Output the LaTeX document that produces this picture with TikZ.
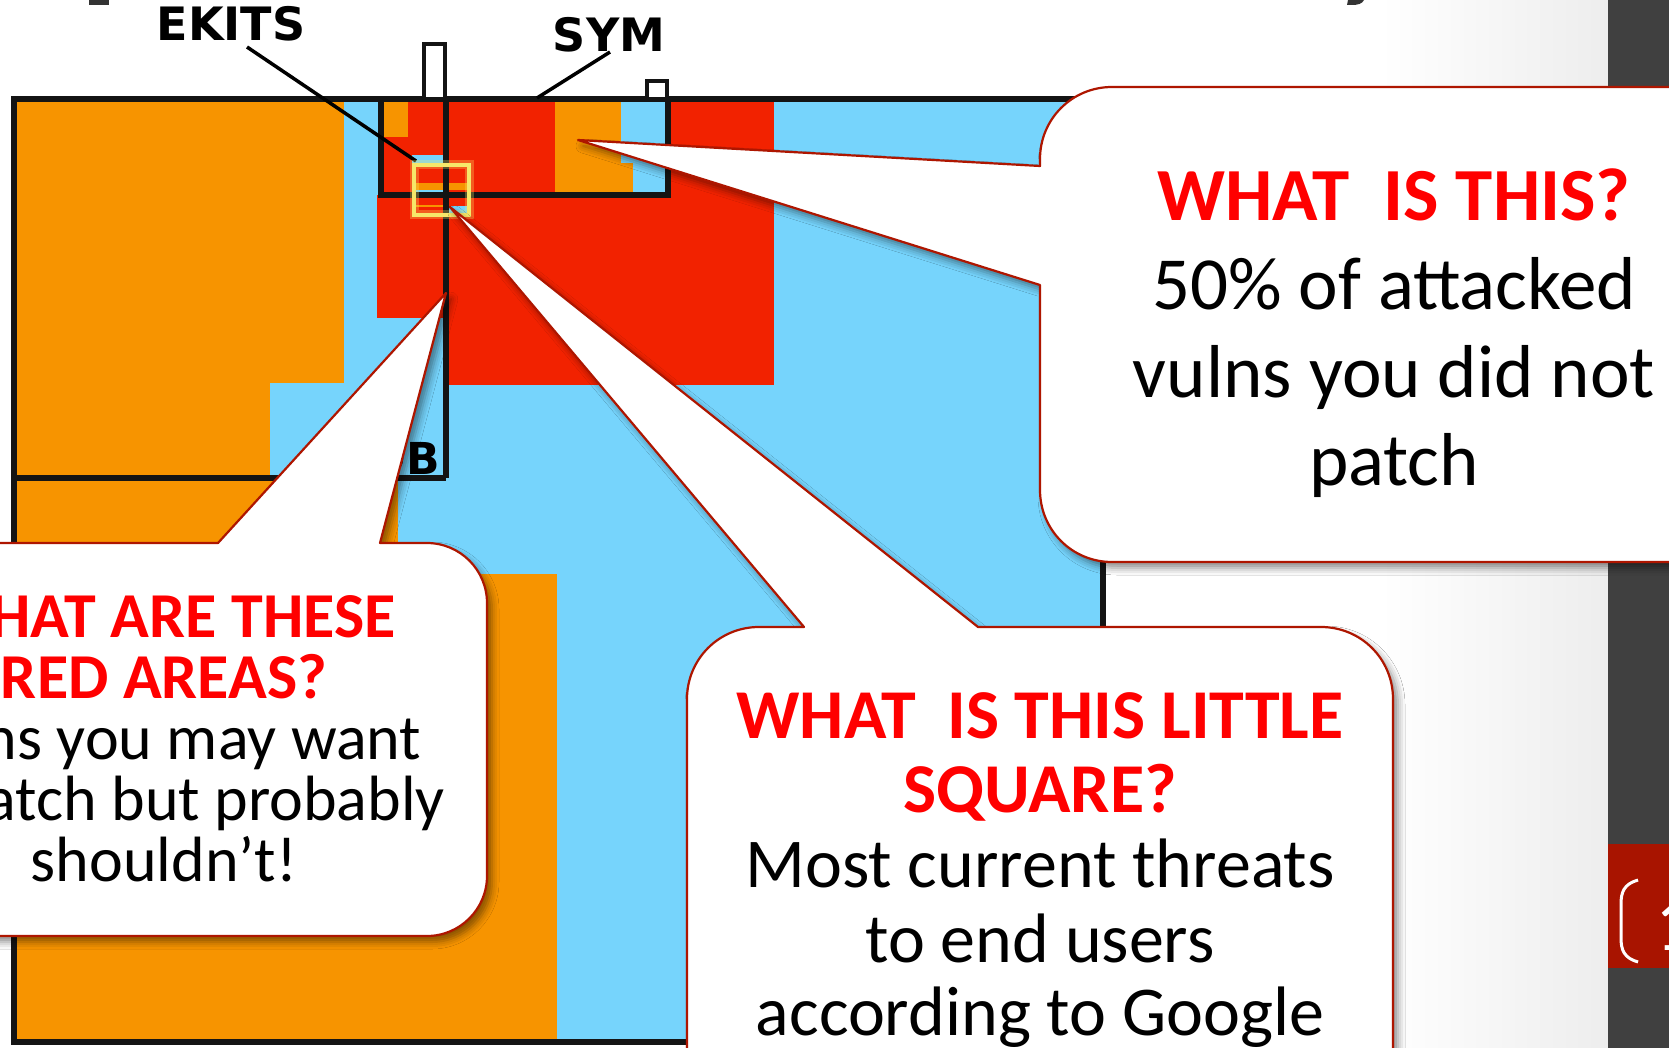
\documentclass[tikz,border=0pt]{standalone}
\usepackage{fontspec}
\setmainfont{Carlito}
\newfontfamily\chartfont{DejaVu Sans}
\usetikzlibrary{shadows.blur}

\definecolor{chartorange}{HTML}{F79400}
\definecolor{chartblue}{HTML}{76D4FC}
\definecolor{chartred}{HTML}{F22200}
\definecolor{qred}{HTML}{FF0000}
\definecolor{rimred}{HTML}{AE1600}
\definecolor{sidegray}{HTML}{404040}
\definecolor{numred}{HTML}{A81400}
\definecolor{marker}{HTML}{F6E86A}

\tikzset{
  frameline/.style={draw=black!92, line width=6pt, line join=miter},
  tabline/.style={draw=black!92, line width=4pt, line join=miter},
  pointer/.style={draw=black, line width=3.5pt},
  callout/.style={fill=white, draw=rimred, line width=2.2pt, line join=round,
    blur shadow={shadow xshift=5pt, shadow yshift=-6pt, shadow blur radius=7pt, shadow opacity=45}},
  chartlabel/.style={anchor=base, inner sep=0pt, font=\chartfont\bfseries\fontsize{#1}{#1}\selectfont},
  head/.style={anchor=base, inner sep=0pt, text=qred, font=\bfseries\fontsize{#1}{#1}\selectfont},
  body/.style={anchor=base, inner sep=0pt, text=black, font=\fontsize{#1}{#1}\selectfont}
}

\begin{document}
\begin{tikzpicture}[x=1pt, y=-1pt]
\useasboundingbox (0,0) rectangle (1669,1048);
\clip (0,0) rectangle (1669,1048);

% slide background, side band and page number tab
\fill[white] (0,0) rectangle (1669,1048);
\shade[left color=white, right color=black!7] (1380,0) rectangle (1608,1048);
\fill[sidegray] (1608,0) rectangle (1669,1048);
\fill[numred] (1608,844) rectangle (1669,968);
\draw[white, line width=3pt] (1638,880) .. controls (1624,884) and (1621,892) .. (1621,904)
  -- (1621,938) .. controls (1621,950) and (1624,958) .. (1638,962);
\node[body=78, text=white, anchor=base west] (pagenum) at (1655,950) {1};

% descenders of the slide title
\fill[black!80] (89,0) rectangle (109,5);
\fill[black!80] (1348,0) -- (1364,0) .. controls (1362,4) and (1358,5) .. (1351,5) -- (1347,5) -- cycle;

% treemap blocks
\fill[chartblue] (14,99) rectangle (1103,1042);
\fill[chartorange] (14,99) rectangle (344,383);
\fill[chartorange] (14,383) rectangle (270,478);
\fill[chartorange] (14,478) rectangle (398,574);
\fill[chartorange] (14,574) rectangle (557,1042);
\fill[chartred] (446,195) rectangle (774,385);
\fill[chartred] (377,195) rectangle (446,318);
\fill[chartred] (668,99) rectangle (774,195);
\fill[chartred] (381,99) rectangle (555,195);
\fill[chartorange] (381,99) rectangle (408,137);
\fill[chartorange] (555,99) rectangle (621,195);
\fill[chartorange] (621,163) rectangle (633,195);
\fill[chartblue] (621,99) rectangle (668,163);
\fill[chartblue] (633,163) rectangle (668,195);

% tiny cells inside the marked square
\fill[chartblue] (412,155) rectangle (443,165);
\fill[chartorange] (414,183) rectangle (468,190);
\fill[chartblue] (414,190) rectangle (443,193);
\fill[chartorange] (414,205) rectangle (443,207);
\fill[chartblue] (449,206) rectangle (467,215);

% outlines of the groups
\draw[frameline] (14,99) rectangle (1103,1042);
\draw[frameline] (381,99) rectangle (668,195);
\draw[frameline] (446,99) -- (446,478);
\draw[frameline] (14,478) -- (446,478);
\draw[tabline, fill=white] (424,44) rectangle (445,99);
\draw[tabline, fill=white] (647,81) rectangle (667,99);

% group labels
\node[chartlabel=46] (ekits) at (231,41) {EKITS};
\node[chartlabel=46] (sym) at (609,52) {SYM};
\node[chartlabel=44, anchor=base east] (db) at (440,474) {DB};
\coordinate (ekitsfoot) at (247,47);
\coordinate (ekitsend) at (416,161);
\coordinate (symfoot) at (610,52);
\coordinate (symend) at (537,98);
\draw[pointer] (ekitsfoot) -- (ekitsend);
\draw[pointer] (symfoot) -- (symend);

% highlighted little square
\draw[marker, line width=9pt, opacity=0.3] (414,165) rectangle (469,215);
\draw[marker, line width=4.5pt] (414,165) rectangle (469,215);

% callout pointers
\coordinate (tipA) at (578,140);
\coordinate (tipB) at (446,293);
\coordinate (tipC) at (450,207);

% callout: red areas
\path[callout] (-200,543) -- (218,543) -- (tipB) -- (380,543) -- (427,543)
  .. controls (460,543) and (487,570) .. (487,603) -- (487,876)
  .. controls (487,909) and (460,936) .. (427,936) -- (-200,936) -- cycle;

% callout: what is this
\path[callout] (1040,166) -- (1040,159) .. controls (1040,119) and (1072,87) .. (1112,87)
  -- (1720,87) -- (1720,562) -- (1112,562) .. controls (1072,562) and (1040,530) .. (1040,490)
  -- (1040,285) -- (tipA) -- cycle;

% callout: little square
\path[callout] (687,1200) -- (687,699) .. controls (687,659) and (719,627) .. (759,627)
  -- (804,627) -- (tipC) -- (978,627) -- (1321,627)
  .. controls (1361,627) and (1393,659) .. (1393,699) -- (1393,1200) -- cycle;

% callout texts
\node[head=75] (q1) at (1394,221) {WHAT~~IS THIS?};
\node[body=75] (a1a) at (1394,309) {50\% of attacked};
\node[body=75] (a1b) at (1394,397) {vulns you did not};
\node[body=75] (a1c) at (1394,485) {patch};

\node[head=64] (q2a) at (164,637) {WHAT ARE THESE};
\node[head=64] (q2b) at (164,698) {RED AREAS?};
\node[body=64] (a2a) at (164,759) {vulns you may want};
\node[body=64] (a2b) at (164,820) {to patch but probably};
\node[body=64] (a2c) at (164,881) {shouldn’t!};

\node[head=70] (q3a) at (1040,738) {WHAT~~IS THIS LITTLE};
\node[head=70] (q3b) at (1040,812) {SQUARE?};
\node[body=70] (a3a) at (1040,887) {Most current threats};
\node[body=70] (a3b) at (1040,962) {to end users};
\node[body=70] (a3c) at (1040,1035) {according to Google};
\end{tikzpicture}
\end{document}
